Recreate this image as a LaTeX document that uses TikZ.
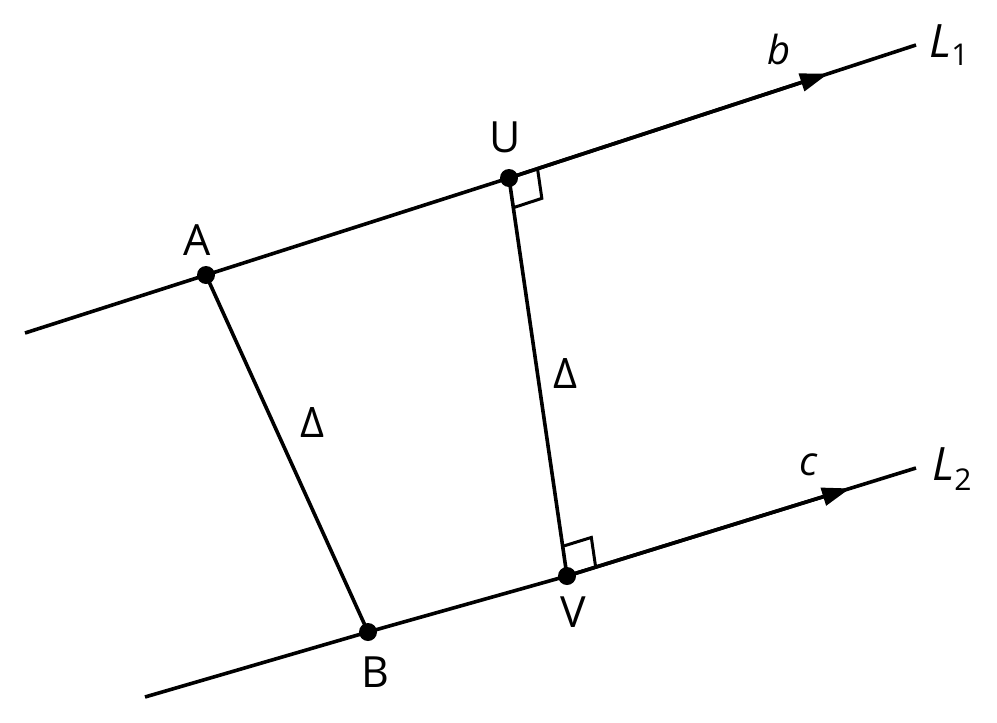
\documentclass[tikz,border=0pt]{standalone}
\usepackage{fontspec}
\setmainfont{Open Sans}
\usetikzlibrary{calc,arrows.meta}
\begin{document}
\begin{tikzpicture}[x=0.5pt,y=-0.5pt,
  ln/.style={line width=1.8pt},
  sq/.style={line width=1.5pt},
  arr/.style={ln,-{Triangle[length=14pt,width=9pt]}},
  dot/.style={circle,fill=black,inner sep=0pt,minimum size=9pt},
  ptlbl/.style={font=\fontsize{21.5}{24}\selectfont,inner sep=0pt},
  dlbl/.style={font=\fontsize{21}{24}\selectfont,inner sep=0pt},
  vlbl/.style={font=\fontsize{20}{24}\selectfont\itshape,inner sep=0pt,anchor=base west},
  llbl/.style={font=\fontsize{23}{26}\selectfont,inner sep=0pt,anchor=base west}
]
\useasboundingbox (0,0) rectangle (997,723);
% line ends
\coordinate (L1s) at (25,333);
\coordinate (L1e) at (916,45);
\coordinate (L2s) at (145,697);
\coordinate (L2e) at (916,468);
% points
\node[dot] (A) at (206,275) {};
\node[dot] (U) at (509,178) {};
\node[dot] (B) at (368,632) {};
\node[dot] (V) at (567,576) {};
% arrow tips
\coordinate (T1) at ($(U.center)!0.784!(L1e)$);
\coordinate (T2) at ($(V.center)!0.811!(L2e)$);
% lines
\draw[ln] (L1s) -- (A.center) -- (U.center) -- (L1e);
\draw[arr] (U.center) -- (T1);
\draw[ln] (L2s) -- (B.center) -- (V.center) -- (L2e);
\draw[arr] (V.center) -- (T2);
\draw[ln] (A.center) -- (B.center);
\draw[ln] (U.center) -- (V.center);
% right angle marks
\coordinate (U1) at ($(U.center)!15pt!(L1e)$);
\coordinate (U2) at ($(U.center)!15pt!(V.center)$);
\draw[sq] (U1) -- ($(U1)+(U2)-(U.center)$) -- (U2);
\coordinate (V1) at ($(V.center)!15pt!(L2e)$);
\coordinate (V2) at ($(V.center)!15pt!(U.center)$);
\draw[sq] (V1) -- ($(V1)+(V2)-(V.center)$) -- (V2);
% labels
\node[ptlbl] (lA) at (197,240) {A};
\node[ptlbl] (lU) at (505,137) {U};
\node[ptlbl] (lB) at (375,672) {B};
\node[ptlbl] (lV) at (573,612) {V};
\node[dlbl] (d1) at (313,423) {Δ};
\node[dlbl] (d2) at (566,374) {Δ};
\node[vlbl] (lb) at (767,64) {b};
\node[vlbl] (lc) at (799,475) {c};
\node[llbl] (lL1) at (929,57) {\textit{L}\raisebox{-4pt}{\fontsize{15}{15}\selectfont 1}};
\node[llbl] (lL2) at (932,480) {\textit{L}\raisebox{-5pt}{\fontsize{15}{15}\selectfont 2}};
\end{tikzpicture}
\end{document}
